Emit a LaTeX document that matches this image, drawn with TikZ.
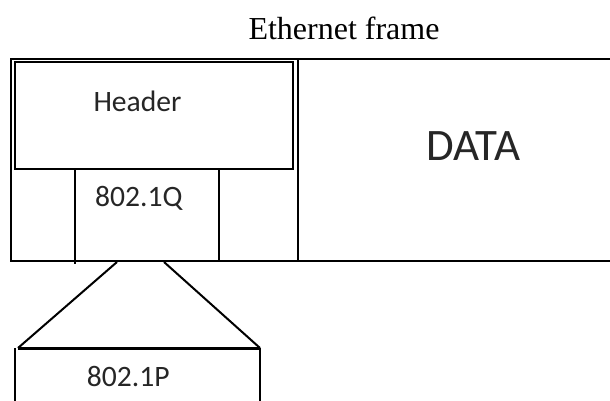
\documentclass[tikz,border=0pt]{standalone}
\usepackage{fontspec}
\setmainfont{Liberation Serif}
\newfontfamily\calib{Carlito}
\usetikzlibrary{positioning}

\tikzset{
    frameline/.style={line width=1pt, black},
    fieldlabel/.style={anchor=base, font=\calib\fontsize{14.8}{16}\selectfont, text=black!85},
}

\begin{document}
\begin{tikzpicture}[x=0.5pt, y=-0.5pt]
            \useasboundingbox (0,0) rectangle (610,401);
            \node[anchor=base, font=\fontsize{16}{18}\selectfont] (title) at (344,40) {Ethernet frame};
            
            % Outer frame, open to the right
            \draw[frameline] (610,59) -- (11,59) -- (11,261) -- (610,261);
            \draw[frameline] (298,59) -- (298,261);
            
            % Header block
            \draw[frameline] (15,62) rectangle (293,169);
            \node[fieldlabel] (header) at (137.5,112) {Header};
            
            % Tag cells
            \draw[frameline] (75,169) -- (75,264);
            \draw[frameline] (219,169) -- (219,261);
            \node[fieldlabel] (tagq) at (138.8,206) {802.1Q};
            
            \node[anchor=base, font=\calib\fontsize{22.5}{26}\selectfont, text=black!85] (data) at (473.3,160) {DATA};
            
            % Zoom into the tag
            \coordinate (qL) at (117,262);
            \coordinate (qR) at (164,262);
            \coordinate (pL) at (18,348);
            \coordinate (pR) at (260,348);
            \draw[frameline] (qL) -- (pL);
            \draw[frameline] (qR) -- (pR);
            
            \draw[line width=1.5pt] (pL) -- (pR);
            \draw[frameline] (15,348) -- (15,401);
            \draw[frameline] (pR) -- (260,401);
            \node[fieldlabel] (tagp) at (128.3,386.5) {802.1P};
\end{tikzpicture}
\end{document}
